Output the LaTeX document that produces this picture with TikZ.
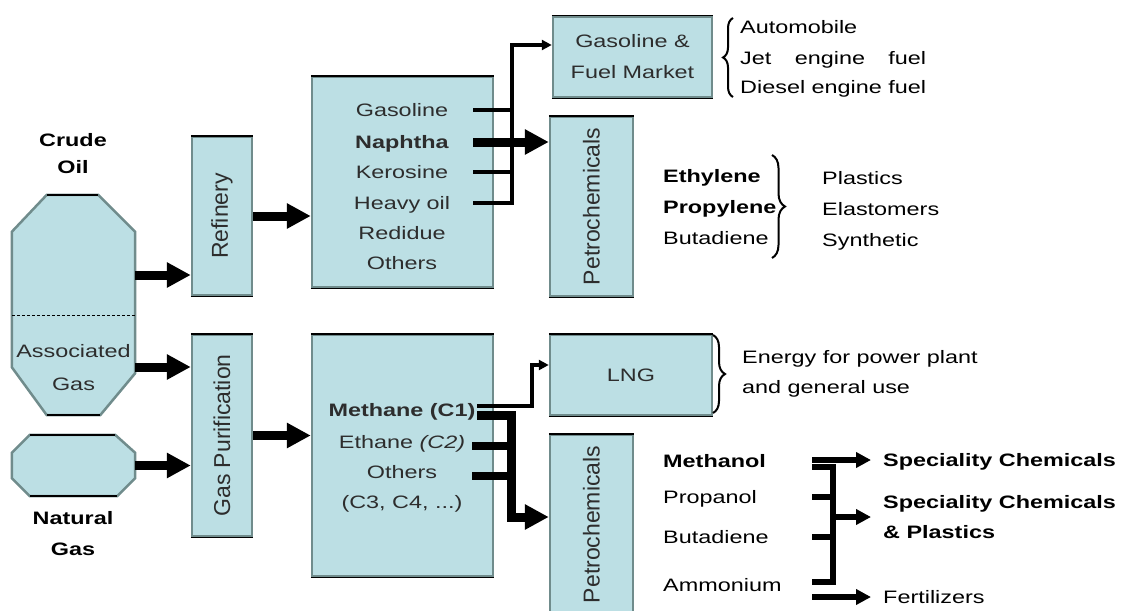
\documentclass[tikz,border=0pt]{standalone}
\usepackage{fontspec}
\setmainfont{Liberation Sans}[FakeStretch=1.3]
\newfontfamily\rotfont{Liberation Sans}
\usetikzlibrary{arrows.meta,decorations.pathreplacing}

\definecolor{tankblue}{RGB}{188,223,228}
\definecolor{tankedge}{RGB}{112,140,140}
\definecolor{boxtext}{RGB}{45,45,45}

\tikzset{
  plant/.style={draw=tankedge, fill=tankblue, line width=2.5pt, inner sep=0pt,
    append after command={\pgfextra{\let\thisbox\tikzlastnode}
      (\thisbox.north west) edge[draw=black, line width=1.5pt] (\thisbox.north east)
      (\thisbox.south west) edge[draw=black, line width=1.5pt] (\thisbox.south east)}},
  tankarea/.style={draw=none, inner sep=0pt},
  tankline/.style={draw=tankedge, fill=tankblue, line width=2.5pt},
  uptext/.style={rotate=90, font=\rotfont\fontsize{23}{27}\selectfont, text=boxtext, inner sep=0pt},
  intext/.style={font=\fontsize{18}{31}\selectfont, text=boxtext, inner sep=0pt, text height=13pt, text depth=0pt},
  outtext/.style={font=\fontsize{18}{31}\selectfont, inner sep=0pt, text height=13pt, text depth=0pt, anchor=west},
  outbold/.style={outtext, font=\bfseries\fontsize{18}{31}\selectfont},
  outlines/.style={font=\fontsize{18}{30}\selectfont, inner sep=0pt, anchor=west, align=left},
  bigflow/.style={line width=9pt, -{Triangle[length=24pt, width=24pt]}},
  midflow/.style={line width=6pt, -{Triangle[length=15pt, width=15pt]}},
  tapline/.style={line width=4.5pt},
  busline/.style={line width=6.5pt},
  smalltip/.style={-{Triangle[length=10pt, width=10pt]}},
  curly/.style={decorate, decoration={brace, amplitude=#1}, line width=2pt},
}

\begin{document}
\begin{tikzpicture}[x=1pt, y=-1pt]
	\useasboundingbox (0,0) rectangle (1123,610);
	\clip (0,0) rectangle (1123,610);

	% sources
	\node[tankarea, minimum width=123pt, minimum height=220pt] (crudetank) at (73.5,305) {};
	\draw[tankline] ([xshift=35pt]crudetank.north west) -- ([xshift=-37pt]crudetank.north east)
		-- ([yshift=-37pt]crudetank.north east) -- ([yshift=42pt]crudetank.south east)
		-- ([xshift=-35pt]crudetank.south east) -- ([xshift=35pt]crudetank.south west)
		-- ([yshift=48pt]crudetank.south west) -- ([yshift=-37pt]crudetank.north west) -- cycle;
	\draw[line width=1.5pt] ([xshift=35pt]crudetank.north west) -- ([xshift=-37pt]crudetank.north east);
	\draw[line width=1.5pt] ([xshift=35pt]crudetank.south west) -- ([xshift=-35pt]crudetank.south east);
	\draw[dashed, dash pattern=on 3pt off 2pt, line width=0.8pt] (crudetank.west |- 0,315) -- (crudetank.east |- 0,315);
	\node[font=\bfseries\fontsize{18}{27}\selectfont, align=center] (crudelbl) at (73,154) {Crude\\Oil};
	\node[font=\fontsize{18}{33}\selectfont, text=boxtext, align=center] (assoclbl) at (73.5,368) {Associated\\Gas};

	\node[tankarea, minimum width=123pt, minimum height=61pt] (natgas) at (73.5,465.5) {};
	\draw[tankline] ([xshift=18pt]natgas.north west) -- ([xshift=-20pt]natgas.north east)
		-- ([yshift=-18pt]natgas.north east) -- ([yshift=18pt]natgas.south east)
		-- ([xshift=-18pt]natgas.south east) -- ([xshift=18pt]natgas.south west)
		-- ([yshift=18pt]natgas.south west) -- ([yshift=-18pt]natgas.north west) -- cycle;
	\draw[line width=1.5pt] ([xshift=18pt]natgas.north west) -- ([xshift=-20pt]natgas.north east);
	\draw[line width=1.5pt] ([xshift=18pt]natgas.south west) -- ([xshift=-18pt]natgas.south east);
	\node[font=\bfseries\fontsize{18}{31}\selectfont, align=center] (natgaslbl) at (73,534) {Natural\\Gas};

	% first processing
	\node[plant, minimum width=60pt, minimum height=158pt] (refinery) at (222,216) {};
	\node[uptext] (refinerylbl) at (refinery) {Refinery};
	\node[plant, minimum width=60pt, minimum height=201pt] (gaspure) at (222,435.5) {};
	\node[uptext] (gaspurelbl) at (gaspure) {Gas Purification};

	\draw[bigflow] (crudetank.east |- 0,275) -- (refinery.west |- 0,275);
	\draw[bigflow] (crudetank.east |- 0,367) -- (gaspure.west |- 0,367);
	\draw[bigflow] (natgas.east) -- (natgas.east -| gaspure.west);

	% cuts
	\node[plant, minimum width=181pt, minimum height=210pt] (crudecuts) at (402.5,182) {};
	\foreach \name/\cut/\y in {gasoline/Gasoline/110, naphtha/\textbf{Naphtha}/142, kerosine/Kerosine/172, heavyoil/Heavy oil/203, redidue/Redidue/233, others/Others/263}
		\node[intext] (\name) at (402,\y) {\cut};
	\node[plant, minimum width=181pt, minimum height=241pt] (gascuts) at (402.5,455.5) {};
	\foreach \name/\cut/\y in {methane/\textbf{Methane (C1)}/410, ethane/Ethane \textit{(C2)}/442, othersgas/Others/472, heavier/{(C3, C4, ...)}/502}
		\node[intext] (\name) at (402,\y) {\cut};

	\draw[bigflow] (refinery.east) -- (refinery.east -| crudecuts.west);
	\draw[bigflow] (gaspure.east) -- (gaspure.east -| gascuts.west);

	% markets
	\node[plant, minimum width=159pt, minimum height=80pt, align=center, text=boxtext, font=\fontsize{18}{31}\selectfont] (fuelmarket) at (632.5,57) {Gasoline \&\\Fuel Market};
	\node[plant, minimum width=83pt, minimum height=179pt] (petrooil) at (591.5,206.5) {};
	\node[uptext] (petrooillbl) at (petrooil) {Petrochemicals};
	\node[plant, minimum width=162pt, minimum height=80pt, text=boxtext, font=\fontsize{18}{31}\selectfont] (lng) at (631,375) {LNG};
	\node[plant, minimum width=83pt, minimum height=179pt] (petrogas) at (591.5,524.5) {};
	\node[uptext] (petrogaslbl) at (petrogas) {Petrochemicals};

	% crude cuts to markets
	\coordinate (tapA) at (473,0);
	\coordinate (busA) at (512,45);
	\draw[tapline] (gasoline -| tapA) -- (gasoline -| busA);
	\draw[tapline] (kerosine -| tapA) -- (kerosine -| busA);
	\draw[tapline, smalltip] (heavyoil -| tapA) -| (busA) -- (busA -| fuelmarket.west);
	\draw[bigflow] (naphtha -| tapA) -- (naphtha -| petrooil.west);

	% gas cuts to markets
	\coordinate (tapB) at (477,0);
	\coordinate (tapC) at (472,0);
	\coordinate (lngbend) at (532,365);
	\coordinate (busB) at (511,517);
	\draw[tapline, smalltip] ([yshift=4pt]methane -| tapB) -| (lngbend) -- (lngbend -| lng.west);
	\draw[bigflow] ([yshift=-5pt]methane -| tapB) -| (busB) -- (busB -| petrogas.west);
	\draw[line width=8pt] ([yshift=-4pt]ethane -| tapC) -- ([yshift=-4pt]ethane -| busB);
	\draw[line width=8pt] ([yshift=-4pt]othersgas -| tapC) -- ([yshift=-4pt]othersgas -| busB);

	% fuel uses
	\node[outtext] (automobile) at (740,27) {Automobile};
	\node[outtext] (jetfuel) at (740,58) {\makebox[186pt]{Jet\hfill engine\hfill fuel}};
	\node[outtext] (dieselfuel) at (740,87) {Diesel engine fuel};
	\draw[curly=10pt] (733,97) -- (733,18);

	% olefins
	\foreach \name/\prod/\y in {ethylene/\textbf{Ethylene}/176, propylene/\textbf{Propylene}/207, butadiene/Butadiene/238}
		\node[outtext] (\name) at (663,\y) {\prod};
	\draw[curly=13pt] (772,155) -- (772,258);
	\foreach \name/\prod/\y in {plastics/Plastics/178, elastomers/Elastomers/209, synthetic/Synthetic/240}
		\node[outtext] (\name) at (822,\y) {\prod};

	% LNG use
	\draw[curly=12pt] (713,335) -- (713,413);
	\node[outlines] (energy) at (742,374) {Energy for power plant\\and general use};

	% gas chemicals
	\foreach \name/\prod/\y in {methanol/\textbf{Methanol}/461, propanol/Propanol/497, butadienegas/Butadiene/537, ammonium/Ammonium/585}
		\node[outtext] (\name) at (663,\y) {\prod};
	\node[outbold] (special) at (883,460) {Speciality Chemicals};
	\node[outlines, font=\bfseries\fontsize{18}{30}\selectfont] (specplast) at (883,517) {Speciality Chemicals\\\& Plastics};
	\node[outtext] (fertilizers) at (883,597) {Fertilizers};

	\coordinate (tapD) at (812,0);
	\coordinate (busD) at (833,0);
	\draw[midflow] (special -| tapD) -- ([xshift=-12pt]special.west);
	\draw[busline] ([yshift=-6pt]methanol -| tapD) -| ([yshift=3pt]ammonium -| busD) -- ([yshift=3pt]ammonium -| tapD);
	\draw[busline] (propanol -| tapD) -- (propanol -| busD);
	\draw[busline] (butadienegas -| tapD) -- (butadienegas -| busD);
	\draw[midflow] (specplast -| busD) -- ([xshift=-12pt]specplast.west);
	\draw[midflow] (fertilizers -| tapD) -- ([xshift=-12pt]fertilizers.west);
\end{tikzpicture}
\end{document}
